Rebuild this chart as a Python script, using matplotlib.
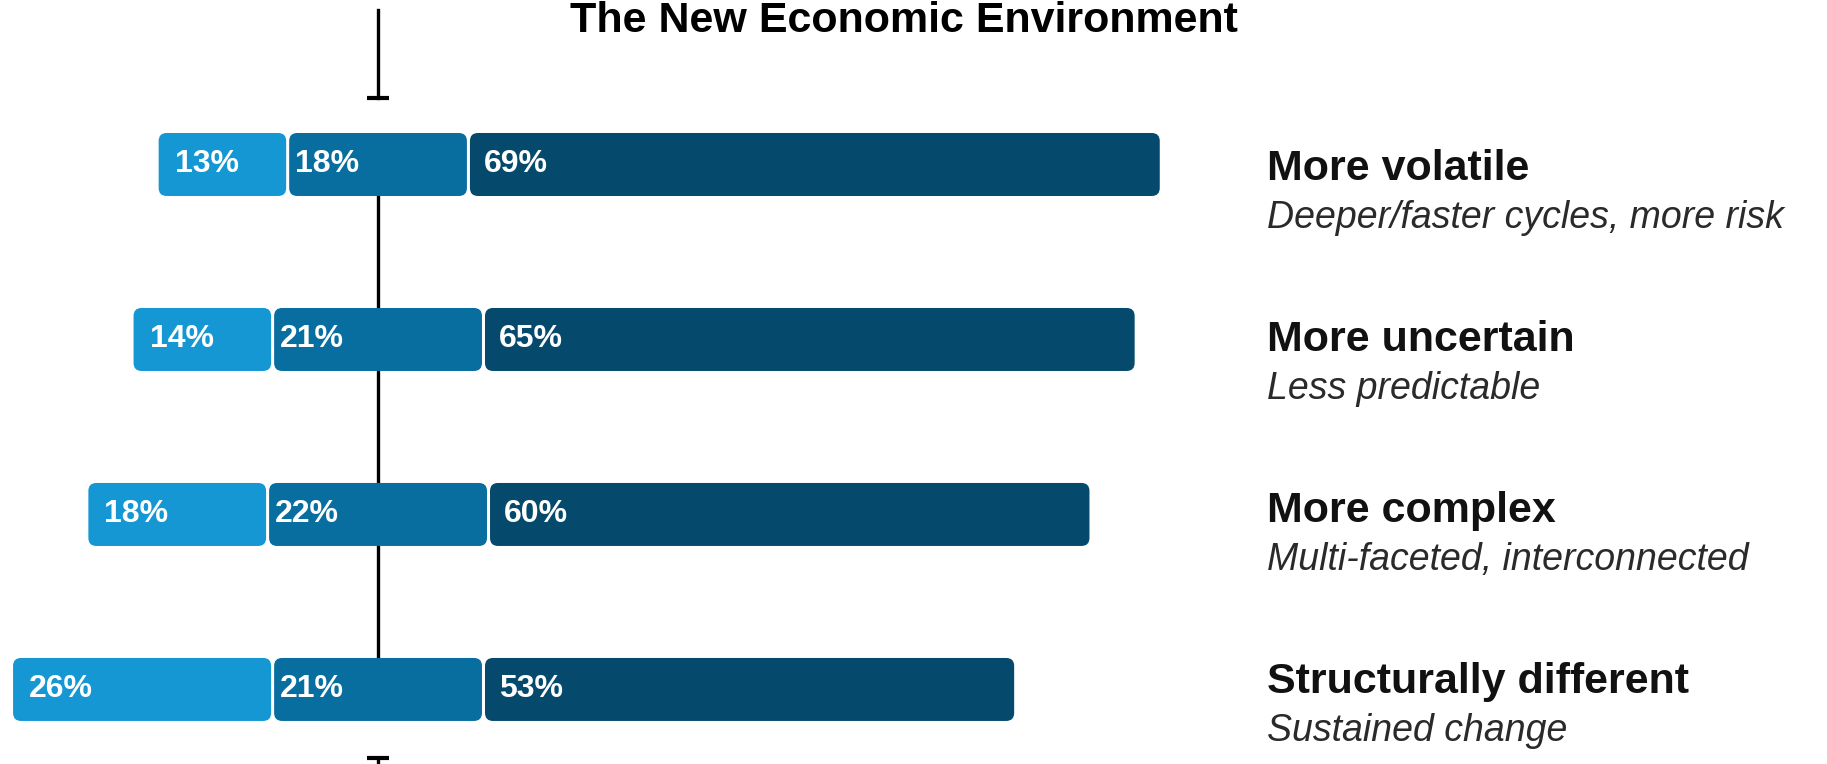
import numpy as np
import matplotlib
matplotlib.use("Agg")
import matplotlib.pyplot as plt
from matplotlib.patches import FancyBboxPatch

title = "The New Economic Environment"
rows = ["More volatile", "More uncertain", "More complex", "Structurally different"]
subs = ["Deeper/faster cycles, more risk", "Less predictable",
        "Multi-faceted, interconnected", "Sustained change"]
low = np.array([13, 14, 18, 26])
mid = np.array([18, 21, 22, 21])
high = np.array([69, 65, 60, 53])

cols = ["#1597d4", "#086ea0", "#054a6c"]
pads = [1.6, 0.6, 1.4]

plt.rcParams['font.family'] = ['Liberation Sans', 'DejaVu Sans']

fig = plt.figure(figsize=(18.27, 7.64), dpi=100)
ax = fig.add_axes([0, 0, 1, 1])
ax.set_xlim(-37.65, 144.3)
ax.set_ylim(3.426, -0.94)
ax.axis('off')

y = np.arange(len(rows))
start = -(low + mid / 2.0)
h = 0.36
xpx = 1827 / (144.3 + 37.65)
ypx = 764 / (3.426 + 0.94)
asp = xpx / ypx

# center line, behind the bars
ax.plot([0, 0], [-0.883, -0.38], color='black', lw=2.4, zorder=1)
ax.plot([0], [-0.38], marker='_', ms=16, mew=3, color='black', zorder=1)
ax.plot([0, 0], [y[0], y[-1]], color='black', lw=2.4, zorder=1)
ax.plot([0, 0], [3.391, 3.6], color='black', lw=2.4, zorder=1)
ax.plot([0], [3.391], marker='_', ms=16, mew=3, color='black', zorder=1)

left = start.copy()
for k, vals in enumerate([low, mid, high]):
    bars = ax.barh(y, vals, height=h, left=left, color=cols[k], zorder=2)
    for r, b in zip(bars, vals):
        x0, y0 = r.get_x(), r.get_y()
        w, hh = r.get_width(), r.get_height()
        r.set_visible(False)
        gap = 0.15
        p = FancyBboxPatch((x0 + gap, y0), w - 2 * gap, hh,
                           boxstyle="round,pad=0,rounding_size=0.8",
                           mutation_aspect=asp, facecolor=cols[k],
                           edgecolor='none', zorder=2)
        ax.add_patch(p)
        ax.text(x0 + gap + pads[k], y0 + hh / 2, "%d%%" % b, color='white',
                fontsize=23, fontweight='bold', va='center', ha='left', zorder=3)
    left = left + vals

for i in range(len(rows)):
    ax.text(88.5, 0.09 + i * 0.977, rows[i], fontsize=31, fontweight='bold',
            va='baseline', ha='left', color='#111111')
    ax.text(88.5, 0.365 + i * 0.977, subs[i], fontsize=27, style='italic',
            va='baseline', ha='left', color='#2a2a2a')

fig.text(0.495, 1 - 32 / 764, title, fontsize=31, fontweight='bold',
         ha='center', va='baseline', color='black')

fig.savefig("out.png", dpi=100)
